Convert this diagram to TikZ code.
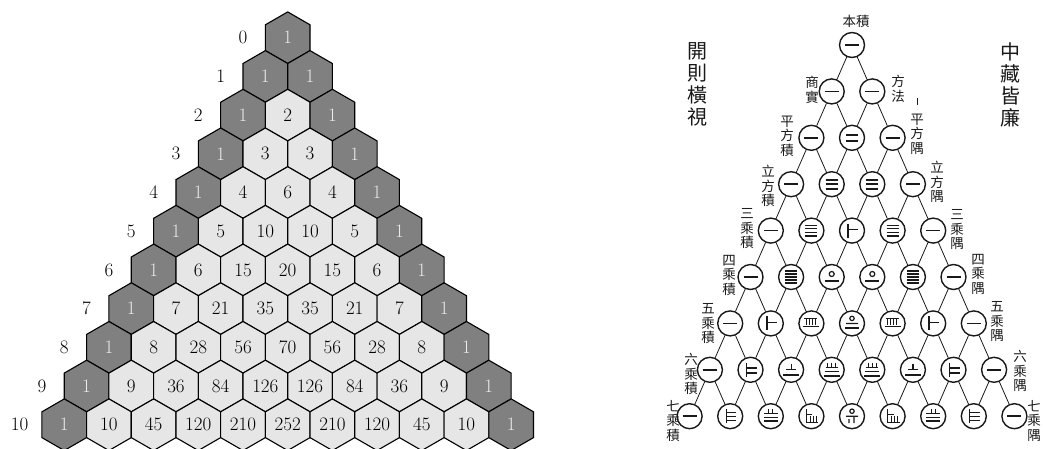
\documentclass[tikz,border=0pt]{standalone}
\usepackage{fontspec}
\newfontfamily\cjk{Noto Sans CJK TC}
\usetikzlibrary{shapes.geometric}
\definecolor{hexdark}{RGB}{128,128,128}
\definecolor{hexlight}{RGB}{230,230,230}
\definecolor{hextextlight}{RGB}{235,235,235}
\definecolor{ink}{RGB}{25,25,25}
\tikzset{
  hex/.style={regular polygon, regular polygon sides=6, shape border rotate=30,
    minimum size=51.6pt, inner sep=0pt, draw=black, line width=1.1pt,
    font=\fontsize{19}{20}\selectfont},
  hexd/.style={hex, fill=hexdark, text=hextextlight},
  hexl/.style={hex, fill=hexlight, text=black},
  rowlab/.style={font=\fontsize{19}{20}\selectfont, inner sep=0pt},
  rodc/.style={circle, draw=ink, line width=1.4pt, fill=white, minimum size=25pt, inner sep=0pt},
  lattice/.style={draw=ink, line width=0.8pt},
  rod/.style={draw=ink, line width=1.6pt},
  rodthin/.style={draw=ink, line width=1.2pt},
  cjklab/.style={font=\cjk\fontsize{13.5}{14.5}\selectfont, align=center, inner sep=0pt, text=ink},
  cjktitle/.style={font=\cjk\fontsize{20}{22}\selectfont, align=center, inner sep=0pt, text=ink},
  rod1/.pic={\draw[rod] (-7,0)--(7,0);},
  rod2/.pic={\draw[rod] (-6,-3)--(6,-3) (-6,3)--(6,3);},
  rod3/.pic={\draw[rod] (-6,-4.5)--(6,-4.5) (-6,0)--(6,0) (-6,4.5)--(6,4.5);},
  rod4/.pic={\draw[rodthin] (-6,-5.4)--(6,-5.4) (-6,-1.8)--(6,-1.8) (-6,1.8)--(6,1.8) (-6,5.4)--(6,5.4);},
  rod5/.pic={\draw[rodthin] (-6,-6)--(6,-6) (-6,-3)--(6,-3) (-6,0)--(6,0) (-6,3)--(6,3) (-6,6)--(6,6);},
  rod6/.pic={\draw[rod] (-4,-7)--(-4,7) (-4,-1)--(6,-1);},
  rod7/.pic={\draw[rod] (-4,-7)--(-4,7) (-4,-2)--(6,-2) (-4,3)--(6,3);},
  rod8/.pic={\draw[rodthin] (-4,-7)--(-4,7) (-4,-4)--(6,-4) (-4,0)--(6,0) (-4,4)--(6,4);},
  rod10/.pic={\draw[rodthin] (0,-3) circle (2.5); \draw[rod] (-7,4)--(7,4);},
  rod15/.pic={\draw[rodthin] (-5,-5)--(-5,2) (-2,-5)--(-2,2) (1,-5)--(1,2) (4,-5)--(4,2) (-7,-5)--(6,-5); \draw[rod] (-8,3)--(8,3);},
  rod20/.pic={\draw[rodthin] (0,-5) circle (2.2) (-6,0)--(6,0); \draw[rod] (-7,4.5)--(7,4.5);},
  rod21/.pic={\draw[rodthin] (0,-6)--(0,0) (-5,0)--(5,0); \draw[rod] (-8,5)--(8,5);},
  rod35/.pic={\draw[rodthin] (-4,-7)--(-4,-2) (0,-7)--(0,-2) (4,-7)--(4,-2) (-6,-2)--(6,-2) (-7,2)--(7,2); \draw[rod] (-8,6)--(8,6);},
  rod28/.pic={\draw[rodthin] (-2,-7)--(-2,-3) (2,-7)--(2,-3) (-7,-3)--(7,-3) (-7,1)--(7,1); \draw[rod] (-7,5)--(7,5);},
  rod56/.pic={\draw[rodthin] (-5,-7)--(-5,6)--(7,6) (-5,-2)--(1,-2) (-1,0)--(-1,6) (2,0)--(2,6) (5,0)--(5,6);},
  rod70/.pic={\draw[rodthin] (0,-5) circle (2.2) (-6,0)--(6,0) (2,0)--(2,7) (-3,3)--(-3,7);},
}
\begin{document}
\begin{tikzpicture}[x=1pt,y=-1pt]
\useasboundingbox (0,0) rectangle (1043,448);
\clip (0,0) rectangle (1043,448);
% ---------- Pascal triangle of hexagons ----------
\foreach \r/\vals in {0/{1},1/{1,1},2/{1,2,1},3/{1,3,3,1},4/{1,4,6,4,1},
  5/{1,5,10,10,5,1},6/{1,6,15,20,15,6,1},7/{1,7,21,35,35,21,7,1},
  8/{1,8,28,56,70,56,28,8,1},9/{1,9,36,84,126,126,84,36,9,1},
  10/{1,10,45,120,210,252,210,120,45,10,1}} {
  \node[rowlab] (lab\r) at ({287.7+(-1-\r/2)*44.69},{37.7+\r*38.7}) {\r};
  \foreach \v [count=\k from 0] in \vals {
    \pgfmathtruncatemacro\isedge{(\k==0)||(\k==\r)}
    \ifnum\isedge=1 \def\hst{hexd}\else\def\hst{hexl}\fi
    \node[\hst] (h-\r-\k) at ({287.7+(\k-\r/2)*44.69},{37.7+\r*38.7}) {\v};
  }
}
% ---------- Yang Hui triangle ----------
\foreach \r/\vals in {0/{1},1/{1,1},2/{1,2,1},3/{1,3,3,1},4/{1,4,6,4,1},
  5/{1,5,10,10,5,1},6/{1,6,15,20,15,6,1},7/{1,7,21,35,35,21,7,1},
  8/{1,8,28,56,70,56,28,8,1}} {
  \foreach \v [count=\k from 0] in \vals {
    \node[rodc] (y-\r-\k) at ({852+(\k-\r/2)*40.6},{45+\r*46.4}) {};
    \pic at (y-\r-\k) {rod\v};
  }
}
\foreach \r in {0,...,7} {
  \foreach \k in {0,...,\r} {
    \pgfmathtruncatemacro\rr{\r+1}
    \pgfmathtruncatemacro\kk{\k+1}
    \draw[lattice] (y-\r-\k) -- (y-\rr-\k);
    \draw[lattice] (y-\r-\k) -- (y-\rr-\kk);
  }
}
% labels
\node[cjklab] (ltop) at (856,21) {本積};
\node[cjklab] (l1) at (812,90) {商\\實};
\node[cjklab] (r1) at (898,89) {方\\法};
\node[cjklab] (l2) at (787,136) {平\\方\\積};
\node[cjklab] (r2) at (917,134) {平\\方\\隅};
\node[cjklab] (l3) at (768,186) {立\\方\\積};
\node[cjklab] (r3) at (937,182) {立\\方\\隅};
\node[cjklab] (l4) at (747,229) {三\\乘\\積};
\node[cjklab] (r4) at (957,230) {三\\乘\\隅};
\node[cjklab] (l5) at (729,275) {四\\乘\\積};
\node[cjklab] (r5) at (978,274) {四\\乘\\隅};
\node[cjklab] (l6) at (708,324) {五\\乘\\積};
\node[cjklab] (r6) at (997,322) {五\\乘\\隅};
\node[cjklab] (l7) at (691,374) {六\\乘\\積};
\node[cjklab] (r7) at (1020,371) {六\\乘\\隅};
\node[cjklab] (l8) at (673,421) {七\\乘\\積};
\node[cjklab] (r8) at (1034,421) {七\\乘\\隅};
\draw[ink, line width=0.8pt] (917,98) -- (917,105);
\node[cjktitle] (tl) at (697,84) {開\\則\\橫\\視};
\node[cjktitle] (tr) at (1010,85) {中\\藏\\皆\\廉};
\end{tikzpicture}
\end{document}
